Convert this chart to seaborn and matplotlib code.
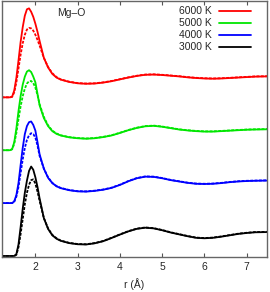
import numpy as np
import matplotlib
matplotlib.use('Agg')
import matplotlib.pyplot as plt
import pandas as pd
import seaborn as sns

# r grid (Angstrom) shared by all curves
r = [1.2, 1.4, 1.45, 1.5, 1.55, 1.6, 1.65, 1.7, 1.75, 1.8, 1.85, 1.9, 1.95,
     2.0, 2.05, 2.1, 2.2, 2.3, 2.4, 2.5, 2.6, 2.8, 3.0, 3.2, 3.4, 3.6, 3.8,
     4.0, 4.2, 4.4, 4.6, 4.8, 5.0, 5.2, 5.4, 5.6, 5.8, 6.0, 6.2, 6.4, 6.6,
     6.8, 7.0, 7.2, 7.5]

temps = ['6000 K', '5000 K', '4000 K', '3000 K']

g6000 = [0, 0, 0.03, 0.3, 0.85, 1.6, 2.4, 3.05, 3.55, 3.83, 3.87, 3.72, 3.5,
         3.2, 2.85, 2.45, 1.72, 1.3, 1.02, 0.86, 0.77, 0.67, 0.61, 0.59, 0.6,
         0.64, 0.7, 0.78, 0.86, 0.93, 0.98, 0.99, 0.97, 0.94, 0.91, 0.87, 0.84,
         0.82, 0.81, 0.82, 0.84, 0.86, 0.88, 0.9, 0.91]
g6000_d = [0, 0, 0.02, 0.22, 0.65, 1.25, 1.85, 2.35, 2.72, 2.95, 3.02, 3.0, 2.9,
           2.72, 2.5, 2.25, 1.72, 1.32, 1.05, 0.88, 0.78, 0.68, 0.62, 0.6, 0.61,
           0.65, 0.71, 0.79, 0.87, 0.94, 0.99, 1.0, 0.98, 0.95, 0.92, 0.88, 0.85,
           0.83, 0.82, 0.83, 0.85, 0.87, 0.89, 0.91, 0.92]

g5000 = [0, 0, 0.05, 0.35, 0.95, 1.7, 2.35, 2.85, 3.2, 3.42, 3.48, 3.4, 3.2,
         2.95, 2.45, 1.95, 1.4, 1.05, 0.83, 0.71, 0.64, 0.56, 0.52, 0.5, 0.52,
         0.57, 0.64, 0.75, 0.87, 0.97, 1.04, 1.06, 1.02, 0.96, 0.9, 0.86, 0.83,
         0.81, 0.81, 0.83, 0.85, 0.87, 0.89, 0.9, 0.91]
g5000_d = [0, 0, 0.04, 0.28, 0.75, 1.35, 1.9, 2.35, 2.68, 2.9, 3.0, 3.01, 2.92,
           2.72, 2.4, 2.0, 1.45, 1.08, 0.85, 0.73, 0.65, 0.57, 0.53, 0.51, 0.53,
           0.58, 0.65, 0.76, 0.88, 0.98, 1.05, 1.07, 1.03, 0.97, 0.91, 0.87, 0.84,
           0.82, 0.82, 0.84, 0.86, 0.88, 0.9, 0.91, 0.92]

g4000 = [0, 0, 0, 0.08, 0.35, 0.87, 1.65, 2.4, 3.0, 3.35, 3.52, 3.55, 3.4,
         3.15, 2.65, 2.12, 1.5, 1.1, 0.87, 0.73, 0.65, 0.56, 0.51, 0.5, 0.53,
         0.58, 0.66, 0.79, 0.95, 1.08, 1.15, 1.14, 1.08, 1.0, 0.94, 0.88, 0.84,
         0.83, 0.84, 0.87, 0.91, 0.94, 0.96, 0.97, 0.98]
g4000_d = [0, 0, 0, 0.06, 0.28, 0.7, 1.3, 1.9, 2.4, 2.75, 2.95, 3.04, 3.0,
           2.85, 2.5, 2.05, 1.5, 1.12, 0.88, 0.74, 0.66, 0.57, 0.52, 0.51, 0.54,
           0.59, 0.67, 0.8, 0.96, 1.09, 1.16, 1.15, 1.09, 1.01, 0.95, 0.89, 0.85,
           0.84, 0.85, 0.88, 0.92, 0.95, 0.97, 0.98, 0.99]

g3000 = [0, 0, 0, 0, 0.08, 0.5, 1.25, 2.05, 2.75, 3.28, 3.7, 3.89, 3.75,
         3.42, 3.0, 2.5, 1.65, 1.18, 0.9, 0.75, 0.66, 0.56, 0.51, 0.5, 0.55,
         0.64, 0.78, 0.93, 1.07, 1.18, 1.23, 1.2, 1.12, 1.02, 0.94, 0.86, 0.79,
         0.77, 0.79, 0.84, 0.9, 0.96, 1.0, 1.03, 1.04]
g3000_d = [0, 0, 0, 0, 0.05, 0.38, 0.95, 1.6, 2.25, 2.75, 3.1, 3.3, 3.33,
           3.15, 2.8, 2.4, 1.65, 1.2, 0.92, 0.77, 0.67, 0.57, 0.52, 0.51, 0.56,
           0.65, 0.79, 0.94, 1.08, 1.19, 1.24, 1.21, 1.13, 1.03, 0.95, 0.87, 0.8,
           0.78, 0.8, 0.85, 0.91, 0.97, 1.01, 1.04, 1.05]

solid = {'6000 K': g6000, '5000 K': g5000, '4000 K': g4000, '3000 K': g3000}
dashed = {'6000 K': g6000_d, '5000 K': g5000_d, '4000 K': g4000_d, '3000 K': g3000_d}

colors = {'6000 K': '#ff0000', '5000 K': '#00e600', '4000 K': '#0000ff', '3000 K': '#000000'}
shift = {'6000 K': 6.9, '5000 K': 4.6, '4000 K': 2.3, '3000 K': 0.0}

sns.set_style('white')
plt.rcParams['font.family'] = ['Liberation Sans', 'DejaVu Sans']

fig = plt.figure(figsize=(2.70, 2.92), dpi=100)
ax = fig.add_axes([2/270, 0.121, 265/270, 0.8756])

for t in temps:
    df = pd.DataFrame({'r': r, 'g': np.array(dashed[t]) + shift[t]})
    sns.lineplot(data=df, x='r', y='g', ax=ax, color=colors[t], lw=1.3,
                 dashes=False, linestyle=(0, (1.6, 0.8)), legend=False)
for t in temps:
    df = pd.DataFrame({'r': r, 'g': np.array(solid[t]) + shift[t]})
    sns.lineplot(data=df, x='r', y='g', ax=ax, color=colors[t], lw=1.3, label=t)

ax.set_xlim(1.21, 7.48)
ax.set_ylim(-0.03, 11.09)
ax.set_xticks([2, 3, 4, 5, 6, 7])
ax.set_yticks([])
ax.tick_params(axis='x', direction='in', top=True, bottom=True, length=3,
               width=0.8, color='#555555', labelsize=7.5, pad=4)
for s in ax.spines.values():
    s.set_color('#666666')
    s.set_linewidth(1.0)
ax.set_xlabel('r (Å)', fontsize=7.5, labelpad=4)
ax.set_ylabel('')

ax.text(0.208, 0.952, 'Mg–O', transform=ax.transAxes, fontsize=7.5,
        va='center', ha='left')

ax.legend(loc='upper right', bbox_to_anchor=(0.958, 1.0), frameon=False,
          markerfirst=False, fontsize=7.5, handlelength=3.0, handletextpad=0.7,
          labelspacing=0.2, borderaxespad=0.3, borderpad=0.2)

fig.savefig('out.png', dpi=100)
